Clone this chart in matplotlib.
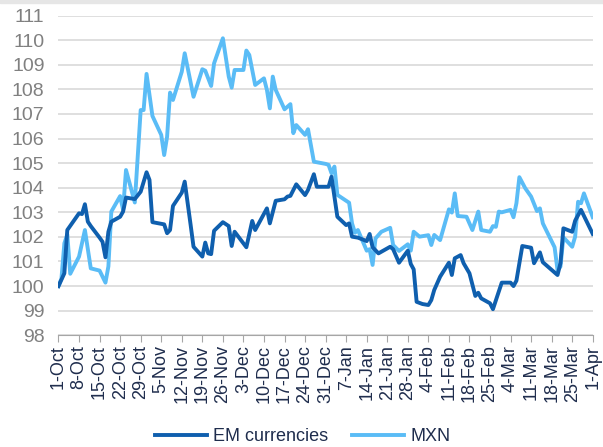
import numpy as np
import pandas as pd
import matplotlib.pyplot as plt
import matplotlib.dates as mdates

plt.rcParams['font.family'] = ['Liberation Sans', 'DejaVu Sans']

# start date, offsets in days
start = pd.Timestamp("2018-10-01")

em_days = [0, 2, 3, 7, 8, 9, 10, 11, 14, 15, 16, 17, 18, 21, 22, 23, 26, 28, 30, 31,
           32, 36, 37, 38, 39, 42, 43, 45, 46, 49, 50, 51, 52, 53, 56, 58, 59, 60, 64,
           66, 67, 71, 72, 74, 77, 78, 79, 81, 84, 85, 87, 88, 92, 93, 95, 98, 99, 100,
           102, 105, 106, 107, 109, 113, 114, 116, 119, 120, 121, 122, 124, 126, 127,
           128, 130, 133, 134, 135, 137, 138, 140, 142, 143, 144, 147, 148, 151, 154,
           155, 156, 158, 161, 162, 164, 165, 170, 171, 172, 175, 176, 178, 182]
em_vals = [100.0, 100.52, 102.28, 102.96, 102.93, 103.33, 102.62, 102.44, 101.97, 101.8,
           101.17, 102.21, 102.62, 102.82, 103.03, 103.6, 103.54, 103.84, 104.63, 104.32,
           102.6, 102.51, 102.15, 102.28, 103.26, 103.8, 104.25, 102.5, 101.6, 101.2,
           101.77, 101.33, 101.3, 102.25, 102.6, 102.44, 101.63, 102.21, 101.58,
           102.65, 102.28, 103.16, 102.55, 103.47, 103.53, 103.64, 103.67, 104.14, 103.7,
           103.91, 104.55, 104.04, 104.04, 104.45, 102.82, 102.48, 102.55, 102.01,
           101.97, 101.83, 102.12, 101.58, 101.33, 101.6, 101.5, 100.95, 101.44, 100.9,
           100.68, 99.36, 99.27, 99.23, 99.43, 99.84, 100.38, 100.95, 100.45, 101.13,
           101.26, 100.93, 100.52, 99.6, 99.73, 99.5, 99.3, 99.06, 100.14, 100.14,
           100.0, 100.22, 101.63, 101.56, 100.93, 101.37, 100.97, 100.45, 100.93,
           102.35, 102.21, 102.66, 103.1, 102.12]

mxn_days = [0, 1, 2, 3, 4, 7, 9, 11, 14, 16, 17, 18, 21, 22, 23, 26, 28, 29, 30, 32,
            35, 36, 37, 38, 39, 42, 43, 46, 49, 50, 52, 53, 56, 58, 59, 60, 63, 64, 65,
            67, 70, 71, 72, 73, 74, 77, 79, 80, 81, 84, 85, 87, 91, 92, 93, 94, 95, 99,
            100, 101, 102, 105, 106, 107, 108, 110, 113, 114, 116, 119, 120, 121, 123,
            126, 127, 128, 130, 133, 134, 135, 136, 139, 141, 143, 144, 147, 148, 149,
            150, 151, 154, 155, 156, 157, 159, 161, 163, 164, 165, 169, 170, 171, 172,
            175, 176, 177, 178, 179, 182]
mxn_vals = [100.0, 100.3, 101.74, 102.1, 100.5, 101.2, 102.28, 100.72, 100.63, 100.14,
            100.8, 103.03, 103.66, 103.1, 104.72, 103.4, 107.16, 107.16, 108.63, 106.92,
            106.15, 105.33, 106.08, 107.87, 107.57, 108.72, 109.47, 107.7, 108.82,
            108.76, 108.14, 109.06, 110.08, 108.52, 108.07, 108.79, 108.79, 109.58,
            109.4, 108.18, 108.45, 107.98, 107.23, 108.52, 107.98, 107.19, 107.4,
            106.22, 106.55, 106.15, 106.38, 105.06, 104.97, 104.93, 104.59, 104.86,
            103.71, 103.39, 102.55, 102.17, 102.28, 101.44, 101.5, 100.86, 101.94,
            102.21, 102.37, 101.67, 101.43, 101.7, 101.44, 102.21, 102.01, 102.07,
            101.67, 102.08, 101.87, 103.12, 102.99, 103.77, 102.85, 102.82, 102.28,
            103.03, 102.28, 102.21, 102.44, 102.41, 103.03, 103.0, 103.1, 102.8, 103.37,
            104.43, 103.98, 103.64, 103.05, 103.16, 102.55, 101.58, 100.65, 100.79,
            101.98, 101.6, 102.01, 103.43, 103.37, 103.77, 102.8]

em_dates = start + pd.to_timedelta(em_days, unit="D")
mxn_dates = start + pd.to_timedelta(mxn_days, unit="D")
tick_dates = pd.date_range("2018-10-01", "2019-04-01", freq="7D")

fig = plt.figure(figsize=(6.03, 4.47), dpi=100)
# thin grey strip along the top edge
fig.patches.append(plt.Rectangle((0, 0.993), 1, 0.007, transform=fig.transFigure,
                                 color="#e6e6e6", zorder=0))
ax = fig.add_axes([0.097, 0.25, 0.886, 0.715])

ax.plot(em_dates, em_vals, color="#0f5fae", lw=2.8, label="EM currencies", zorder=3)
ax.plot(mxn_dates, mxn_vals, color="#5abcf6", lw=2.8, label="MXN", zorder=2)

ax.set_ylim(98, 111)
ax.set_yticks(range(98, 112))
ax.set_xlim(tick_dates[0], tick_dates[-1])
ax.set_xticks(tick_dates)
ax.xaxis.set_major_formatter(mdates.DateFormatter("%-d-%b"))

ax.grid(axis="y", color="#d9d9d9", lw=1.2)
ax.set_axisbelow(True)
for s in ["left", "right", "top"]:
    ax.spines[s].set_visible(False)
ax.spines["bottom"].set_color("#a6a6a6")

ax.tick_params(axis="y", length=0, labelsize=14, labelcolor="#808080", pad=10)
ax.tick_params(axis="x", length=5, color="#a6a6a6", labelsize=13,
               labelcolor="#1f2d4d", rotation=90, pad=2)

# legend below the date labels
ax.legend(loc="center", bbox_to_anchor=(0.457, -0.318), ncol=2, frameon=False,
          fontsize=13, handlelength=2.9, handletextpad=0.35, columnspacing=1.3,
          labelcolor="#1f2d4d")

fig.savefig("out.png", dpi=100)
